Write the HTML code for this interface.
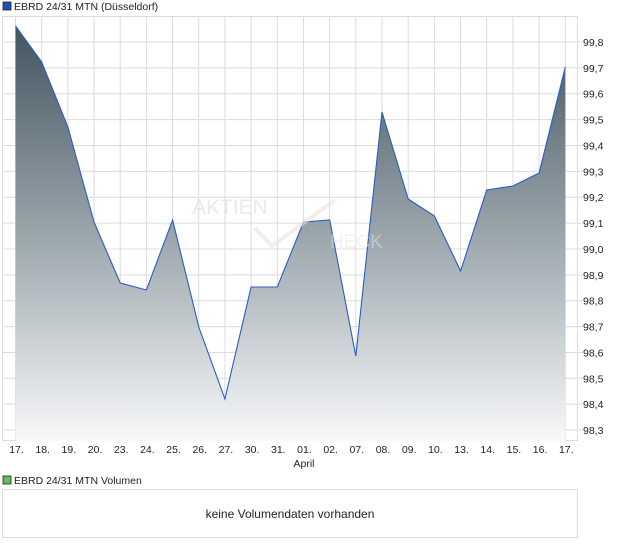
<!DOCTYPE html>
<html><head><style>
body{margin:0;background:#fff;width:620px;height:546px;overflow:hidden;font-family:"Liberation Sans",sans-serif;}
</style></head><body>
<svg width="620" height="546" xmlns="http://www.w3.org/2000/svg" font-family="Liberation Sans, sans-serif">
<defs>
<linearGradient id="g" x1="0" y1="26" x2="0" y2="441" gradientUnits="userSpaceOnUse">
<stop offset="0" stop-color="#43545f"/>
<stop offset="0.5" stop-color="#9aa5ab"/>
<stop offset="1" stop-color="#f8f9fa"/>
</linearGradient>
</defs>
<rect x="3" y="2" width="8" height="8" fill="#1f4fb5" stroke="#222" stroke-width="0.8"/>
<text x="14" y="10" font-size="10.5" fill="#222">EBRD 24/31 MTN (Düsseldorf)</text>
<g stroke="#dcdcdc" stroke-width="1" id="grid"></g>
<rect x="2.5" y="16.5" width="575" height="424" fill="none" stroke="#dcdcdc"/>
<polygon id="area" fill="url(#g)"/>
<polyline id="line" fill="none" stroke="#2a5cc4" stroke-width="1.1"/>
<text x="192" y="214" font-size="21" fill="#ead9d2" opacity="0.6">AKTIEN</text>
<path d="M255 228 L272 246 L335 200" fill="none" stroke="#e8e2de" stroke-width="4" opacity="0.6"/>
<text x="330" y="248" font-size="19" fill="#e6e6e6" opacity="0.5">HECK</text>
<g id="ylab" font-size="10.5" fill="#222"></g>
<g id="xlab" font-size="10.5" fill="#222" text-anchor="middle"></g>
<text x="304" y="467" font-size="10.5" fill="#222" text-anchor="middle">April</text>
<rect x="3" y="476" width="8" height="8" fill="#5cc05c" stroke="#222" stroke-width="0.8"/>
<text x="14" y="484" font-size="10.5" fill="#222">EBRD 24/31 MTN Volumen</text>
<rect x="2.5" y="489.5" width="575" height="48" fill="none" stroke="#dcdcdc"/>
<text x="290" y="518" font-size="12" fill="#222" text-anchor="middle">keine Volumendaten vorhanden</text>
</svg>
<script>
var ns="http://www.w3.org/2000/svg";
var ys=[26,62,127,222,283,290,220,327,399,287,287,222,220,356,112,199,216,271,190,186,173,67];
var lab=["17.","18.","19.","20.","23.","24.","25.","26.","27.","30.","31.","01.","02.","07.","08.","09.","10.","13.","14.","15.","16.","17."];
var grid=document.getElementById("grid"),pts=[];
function el(n,a,p,t){var e=document.createElementNS(ns,n);for(var k in a)e.setAttribute(k,a[k]);if(t)e.textContent=t;p.appendChild(e);return e;}
for(var i=0;i<22;i++){var x=15.5+i*26.18;pts.push(x.toFixed(1)+","+ys[i]);
 el("line",{x1:x,y1:17,x2:x,y2:441},grid);
 el("text",{x:x+1,y:453},document.getElementById("xlab"),lab[i]);}
for(var j=0;j<16;j++){var y=42+j*25.87;el("line",{x1:3,y1:y,x2:583,y2:y},grid);
 el("text",{x:583,y:y+4},document.getElementById("ylab"),(99.8-j*0.1).toFixed(1).replace(".",","));}
document.getElementById("line").setAttribute("points",pts.join(" "));
document.getElementById("area").setAttribute("points","15.5,441 "+pts.join(" ")+" 565.3,441");
</script>
</body></html>
